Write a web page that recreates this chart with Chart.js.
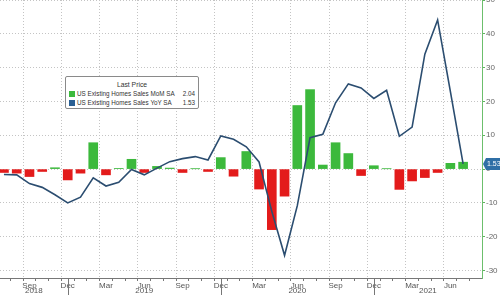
<!DOCTYPE html>
<html>
<head>
    <title>US Existing Home Sales</title>
    <script src="https://cdn.jsdelivr.net/npm/chart.js"></script>
    <style>
        body { margin: 0; background: #fff; }
        #wrap { position: relative; width: 500px; height: 295px; }
        #legendBox {
            position: absolute; left: 65px; top: 76px; width: 132px; height: 31px;
            border: 1px solid #8a8a8a; border-radius: 2px; background: #fff;
            font: 6.3px "Liberation Sans", Arial, sans-serif; color: #333;
            white-space: nowrap;
        }
        #legendBox .title { text-align: center; margin-top: 3px; height: 9px; line-height: 9px; font-size: 6.8px; }
        #legendBox .row { display: flex; align-items: center; height: 9px; line-height: 9px; padding-left: 3px; padding-right: 3px; }
        #legendBox .sw { flex: none; width: 6px; height: 6px; margin-right: 2px; }
        #legendBox .name { flex: 1 1 auto; }
        #legendBox .val { flex: none; margin-left: 2px; }
    </style>
</head>
<body>
    <div id="wrap">
        <canvas id="myChart" width="500" height="295"></canvas>
        <div id="legendBox">
            <div class="title">Last Price</div>
            <div class="row"><span class="sw" style="background:#3cb93c"></span><span class="name">US Existing Homes Sales MoM SA</span><span class="val">2.04</span></div>
            <div class="row"><span class="sw" style="background:#2a5f93"></span><span class="name">US Existing Homes Sales YoY SA</span><span class="val">1.53</span></div>
        </div>
    </div>

    <script>
        // months, Jul 2018 .. Jul 2021
        var months = [
            'Jul 2018', 'Aug 2018', 'Sep 2018', 'Oct 2018', 'Nov 2018', 'Dec 2018',
            'Jan 2019', 'Feb 2019', 'Mar 2019', 'Apr 2019', 'May 2019', 'Jun 2019',
            'Jul 2019', 'Aug 2019', 'Sep 2019', 'Oct 2019', 'Nov 2019', 'Dec 2019',
            'Jan 2020', 'Feb 2020', 'Mar 2020', 'Apr 2020', 'May 2020', 'Jun 2020',
            'Jul 2020', 'Aug 2020', 'Sep 2020', 'Oct 2020', 'Nov 2020', 'Dec 2020',
            'Jan 2021', 'Feb 2021', 'Mar 2021', 'Apr 2021', 'May 2021', 'Jun 2021',
            'Jul 2021'
        ];

        // US Existing Homes Sales MoM SA (bars)
        var momValues = [
            -1.0, -1.2, -2.2, -0.7, 0.4, -3.2,
            -1.2, 7.8, -1.7, 0.2, 2.9, -1.0,
            0.8, 0.3, -1.0, 0.1, -0.7, 3.4,
            -2.1, 5.2, -5.9, -17.9, -8.0, 18.8,
            23.5, 1.2, 7.8, 4.6, -1.9, 1.0,
            0.1, -6.0, -3.5, -2.5, -1.0, 1.7,
            2.04
        ];

        // US Existing Homes Sales YoY SA (line)
        var yoyValues = [
            -1.6, -1.7, -4.3, -5.4, -7.6, -10.0,
            -8.3, -2.6, -5.0, -3.9, -0.1, -1.7,
            0.3, 2.2, 3.1, 3.7, 2.7, 9.8,
            8.8, 6.6, 2.1, -12.5, -25.5, -10.8,
            9.3, 10.3, 19.6, 25.2, 24.0, 20.9,
            23.3, 9.7, 12.4, 34.0, 44.1, 23.0,
            1.53
        ];

        var labeledMonths = ['Sep', 'Dec', 'Mar', 'Jun'];
        var yTicks = [50, 40, 30, 20, 10, 0, -10, -20, -30];

        var green = '#3cb93c';
        var red = '#e31b1b';
        var lineBlue = '#2b4d70';

        function isLabeled(i) {
            return months[i] && labeledMonths.indexOf(months[i].split(' ')[0]) >= 0;
        }

        // year separators + year labels under the axis, plus the last value tag
        var extras = {
            id: 'extras',
            afterDraw: function(chart) {
                var ctx = chart.ctx;
                var xs = chart.scales.x;
                var ys = chart.scales.y;
                var area = chart.chartArea;

                // separators at December
                var seps = [];
                months.forEach(function(m, i) {
                    if (m.indexOf('Dec') === 0) seps.push({ px: xs.getPixelForValue(i), year: m.split(' ')[1] });
                });
                ctx.save();
                ctx.strokeStyle = '#777';
                ctx.lineWidth = 1;
                seps.forEach(function(s) {
                    var x = Math.round(s.px) + 0.5;
                    ctx.beginPath();
                    ctx.moveTo(x, area.bottom);
                    ctx.lineTo(x, chart.height);
                    ctx.stroke();
                });

                // year labels centred in each visible span
                var bounds = [area.left].concat(seps.map(function(s) { return s.px; })).concat([area.right]);
                var years = seps.map(function(s) { return s.year; });
                years.push(months[months.length - 1].split(' ')[1]);
                ctx.fillStyle = '#555';
                ctx.font = '8px "Liberation Sans", Arial, sans-serif';
                ctx.textAlign = 'center';
                ctx.textBaseline = 'middle';
                for (var k = 0; k < years.length; k++) {
                    ctx.fillText(years[k], (bounds[k] + bounds[k + 1]) / 2, 291);
                }

                // last value tag on the right axis
                var last = yoyValues[yoyValues.length - 1];
                var ty = ys.getPixelForValue(last);
                var tx = area.right + 1;
                ctx.fillStyle = '#2f6fa6';
                ctx.beginPath();
                ctx.moveTo(tx, ty);
                ctx.lineTo(tx + 3, ty - 6);
                ctx.lineTo(chart.width, ty - 6);
                ctx.lineTo(chart.width, ty + 6);
                ctx.lineTo(tx + 3, ty + 6);
                ctx.closePath();
                ctx.fill();
                ctx.fillStyle = '#fff';
                ctx.font = '7px "Liberation Sans", Arial, sans-serif';
                ctx.textAlign = 'left';
                ctx.fillText(last.toFixed(2), tx + 4, ty + 0.5);
                ctx.restore();
            }
        };

        var chart;

        function initChart() {
            var ctx = document.getElementById('myChart').getContext('2d');
            chart = new Chart(ctx, {
                data: {
                    datasets: [{
                        type: 'line',
                        label: 'US Existing Homes Sales YoY SA',
                        data: yoyValues.map(function(v, i) { return { x: i, y: v }; }),
                        borderColor: lineBlue,
                        borderWidth: 1.6,
                        pointRadius: 0,
                        tension: 0,
                        fill: false,
                        order: 0
                    }, {
                        type: 'bar',
                        label: 'US Existing Homes Sales MoM SA',
                        data: momValues.map(function(v, i) { return { x: i, y: v }; }),
                        backgroundColor: function(c) { return c.raw && c.raw.y < 0 ? red : green; },
                        barThickness: 9,
                        borderWidth: 0,
                        order: 1
                    }]
                },
                options: {
                    responsive: false,
                    animation: false,
                    layout: { padding: 0 },
                    plugins: { legend: { display: false }, tooltip: { enabled: false } },
                    scales: {
                        x: {
                            type: 'linear',
                            min: 0.2,
                            max: 36.97,
                            afterBuildTicks: function(s) {
                                s.ticks = months.map(function(m, i) { return { value: i }; });
                            },
                            afterFit: function(s) {
                                s.height = 17;
                                s.paddingLeft = 0;
                                s.paddingRight = 0;
                            },
                            ticks: {
                                autoSkip: false,
                                maxRotation: 0,
                                padding: 0,
                                color: '#555',
                                font: { family: '"Liberation Sans", Arial, sans-serif', size: 8 },
                                callback: function(v) { return isLabeled(v) ? months[v].split(' ')[0] : ''; }
                            },
                            grid: {
                                color: function(c) { return c.tick && isLabeled(c.tick.value) ? '#c4c4c4' : 'rgba(0,0,0,0)'; },
                                tickColor: '#777',
                                tickLength: 3
                            },
                            border: { color: '#777', dash: [1, 2] }
                        },
                        y: {
                            position: 'right',
                            min: -32.2,
                            max: 50,
                            afterBuildTicks: function(s) {
                                s.ticks = yTicks.map(function(v) { return { value: v }; });
                            },
                            afterFit: function(s) {
                                s.width = 18;
                                s.paddingTop = 0;
                                s.paddingBottom = 0;
                            },
                            ticks: {
                                padding: 1,
                                color: '#666',
                                font: { family: '"Liberation Sans", Arial, sans-serif', size: 8 }
                            },
                            grid: {
                                color: '#c4c4c4',
                                tickColor: '#5fb35f',
                                tickLength: 3
                            },
                            border: { color: '#6cbf6c', dash: [1, 2] }
                        }
                    }
                },
                plugins: [extras]
            });
        }

        window.onload = function() {
            initChart();
        };
    </script>
</body>
</html>
